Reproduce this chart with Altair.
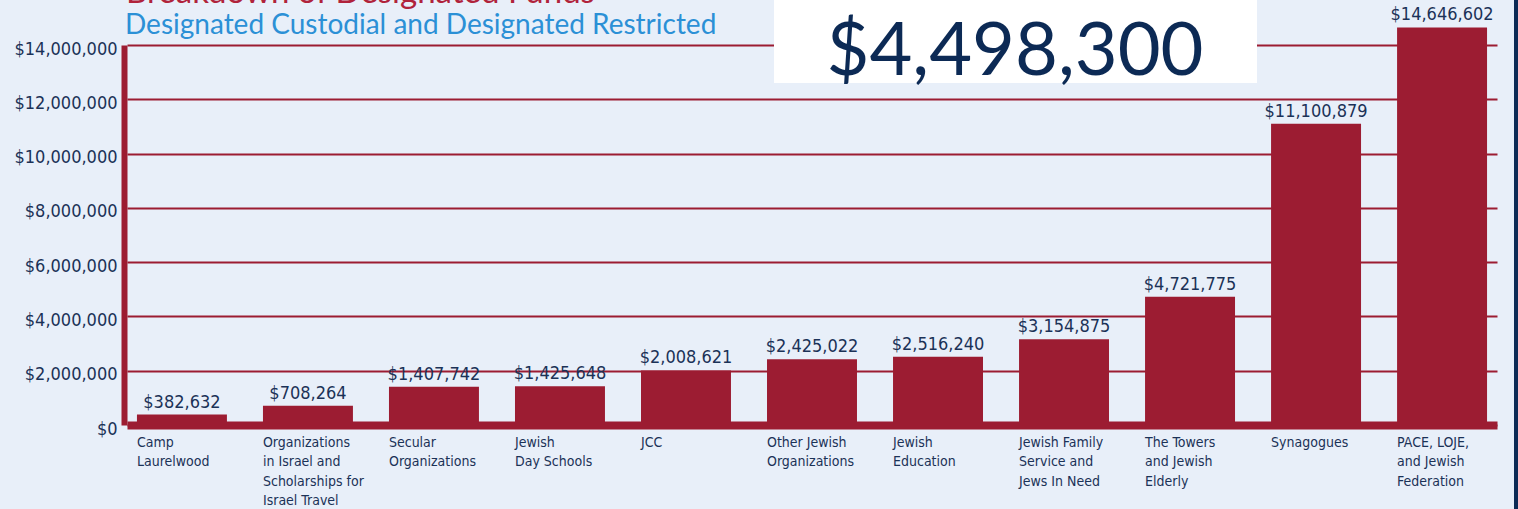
import altair as alt
import pandas as pd

# ---- data ----
categories = [
    "Camp\nLaurelwood",
    "Organizations\nin Israel and\nScholarships for\nIsrael Travel",
    "Secular\nOrganizations",
    "Jewish\nDay Schools",
    "JCC",
    "Other Jewish\nOrganizations",
    "Jewish\nEducation",
    "Jewish Family\nService and\nJews In Need",
    "The Towers\nand Jewish\nElderly",
    "Synagogues",
    "PACE, LOJE,\nand Jewish\nFederation",
]
values = [382632, 708264, 1407742, 1425648, 2008621, 2425022, 2516240,
          3154875, 4721775, 11100879, 14646602]
y_ticks = [0, 2000000, 4000000, 6000000, 8000000, 10000000, 12000000, 14000000]
title_text = "Breakdown of Designated Funds"
subtitle_text = "Designated Custodial and Designated Restricted"
headline = "$4,498,300"

# ---- style ----
BG = "#e8eff9"
RED = "#9c1c32"
NAVY = "#1b3257"
DEEP_NAVY = "#0c2a55"
BLUE = "#2b90d6"
TITLE_RED = "#b0233b"
COND = "Liberation Sans Narrow, DejaVu Sans Condensed, Roboto, sans-serif"
SANS = "Lato, Open Sans, sans-serif"

W, H = 1370, 380

df = pd.DataFrame({
    "cat": categories,
    "value": values,
    "label": [f"${v:,}" for v in values],
})

x_enc = alt.X(
    "cat:N", sort=categories,
    scale=alt.Scale(paddingInner=0.286, paddingOuter=0.079),
    axis=alt.Axis(
        title=None, labelAngle=0, ticks=False, grid=False,
        labelExpr="split(datum.value, '\\n')",
        labelAlign="left", labelOffset=-45, labelBaseline="top",
        labelPadding=10, labelFont=COND, labelFontSize=14,
        labelLineHeight=19.5, labelColor=NAVY,
        domainColor=RED, domainWidth=8,
    ),
)
y_enc = alt.Y(
    "value:Q",
    scale=alt.Scale(domain=[0, 14000000], nice=False),
    axis=alt.Axis(
        title=None, values=y_ticks, format="$,.0f",
        grid=True, gridColor=RED, gridWidth=2, gridOpacity=1,
        ticks=False, domainColor=RED, domainWidth=6, offset=3,
        labelFont=COND, labelFontSize=18, labelColor=NAVY,
        labelPadding=7, labelOffset=4,
    ),
)

base = alt.Chart(df)
bars = base.mark_bar(color=RED).encode(x=x_enc, y=y_enc)
vals = base.mark_text(
    font=COND, fontSize=18, color=NAVY, baseline="alphabetic", dy=-7
).encode(x=alt.X("cat:N", sort=categories), y="value:Q", text="label:N")

one = pd.DataFrame({"t": [0]})
deco = alt.Chart(one)

box = deco.mark_rect(color="white").encode(
    x=alt.value(647), x2=alt.value(1130), y=alt.value(-45), y2=alt.value(38)
)
big = deco.mark_text(
    font=SANS, fontSize=74, color=DEEP_NAVY, align="center", baseline="alphabetic"
).encode(x=alt.value(888), y=alt.value(30), text=alt.value(headline))
title = deco.mark_text(
    font=SANS, fontSize=33, color=TITLE_RED, align="left", baseline="alphabetic"
).encode(x=alt.value(-1), y=alt.value(-42), text=alt.value(title_text))
subtitle = deco.mark_text(
    font=SANS, fontSize=28, color=BLUE, align="left", baseline="alphabetic"
).encode(x=alt.value(-2), y=alt.value(-11), text=alt.value(subtitle_text))
edge = deco.mark_rule(color=DEEP_NAVY, strokeWidth=4).encode(
    x=alt.value(1389), y=alt.value(-45), y2=alt.value(464)
)

chart = alt.layer(bars, vals, box, big, title, subtitle, edge).properties(
    width=W, height=H,
    autosize=alt.AutoSizeParams(type="none"),
    padding={"left": 127, "top": 45, "right": 21, "bottom": 84},
    background=BG,
).configure_view(stroke=None)

chart.save("out.html", embed_options={"renderer": "svg", "actions": False})
